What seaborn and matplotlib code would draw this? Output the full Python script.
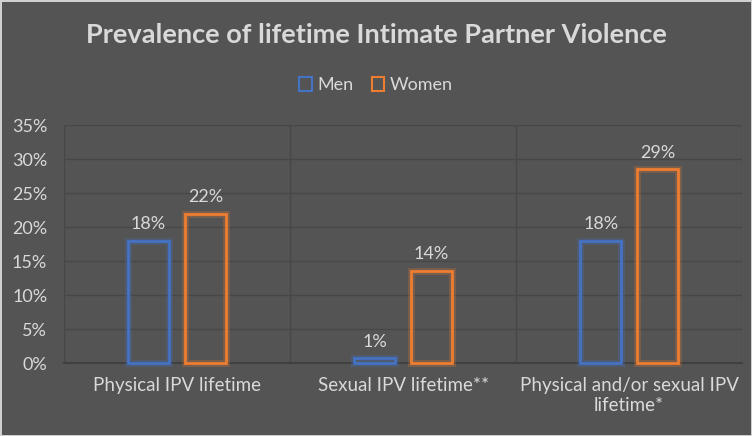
import matplotlib
matplotlib.use("Agg")
import matplotlib.pyplot as plt
import matplotlib.patheffects as pe
import seaborn as sns
import pandas as pd
from matplotlib.patches import Patch

categories = ["Physical IPV lifetime", "Sexual IPV lifetime**", "Physical and/or sexual IPV\nlifetime*"]
men = [18.0, 0.7, 18.0]
women = [22.0, 13.6, 28.5]
men_labels = ["18%", "1%", "18%"]
women_labels = ["22%", "14%", "29%"]
series = ["Men", "Women"]
yticks = [0, 5, 10, 15, 20, 25, 30, 35]

df = pd.DataFrame({
    "category": categories * 2,
    "value": men + women,
    "series": ["Men"] * 3 + ["Women"] * 3,
    "label": men_labels + women_labels,
})

BG = "#545454"
TXT = "#d9d9d9"
GRID = "#474747"
colors = {"Men": "#4472C4", "Women": "#ED7D31"}

sns.set_theme(style="white")
plt.rcParams["font.family"] = ["Lato", "DejaVu Sans"]

fig = plt.figure(figsize=(7.52, 4.36), dpi=100)
fig.patch.set_facecolor(BG)
fig.patch.set_edgecolor("#d0d0d0")
fig.patch.set_linewidth(2)
ax = fig.add_axes([0.085, 0.167, 0.902, 0.546])
ax.set_facecolor(BG)

sns.barplot(data=df, x="category", y="value", hue="series", order=categories,
            hue_order=series, palette=colors, width=0.505, gap=0.29,
            ax=ax, legend=False, fill=False, linewidth=2)

for patch in ax.patches:
    ec = patch.get_edgecolor()
    patch.set_clip_on(False)
    patch.set_zorder(4)
    patch.set_path_effects([pe.Stroke(linewidth=5, foreground=ec, alpha=0.25), pe.Normal()])

for i, cont in enumerate(ax.containers):
    labs = men_labels if i == 0 else women_labels
    ax.bar_label(cont, labels=labs, padding=6, color=TXT, fontsize=13)

ax.set_ylim(0, 35)
ax.set_xlim(-0.5, 2.5)
ax.set_yticks(yticks)
ax.set_yticklabels([f"{t}%" for t in yticks], color=TXT, fontsize=13)
ax.tick_params(axis="x", colors=TXT, labelsize=13.5, length=0, pad=10)
ax.tick_params(axis="y", length=0, pad=12)
ax.set_xlabel("")
ax.set_ylabel("")
for t in yticks[1:]:
    ax.axhline(t, color=GRID, lw=1, zorder=0)
for xv in [-0.5, 0.5, 1.5, 2.5]:
    ax.axvline(xv, color=GRID, lw=1, zorder=0)
for s in ["top", "right", "left"]:
    ax.spines[s].set_visible(False)
ax.spines["bottom"].set_color("#404040")
ax.spines["bottom"].set_linewidth(1.5)
ax.spines["bottom"].set_zorder(1)

fig.text(0.5, 0.92, "Prevalence of lifetime Intimate Partner Violence", ha="center", va="center",
         color=TXT, fontsize=19.5, fontweight="bold")

handles = [Patch(facecolor="none", edgecolor=colors[s], linewidth=1.5, label=s) for s in series]
leg = fig.legend(handles=handles, loc="center", bbox_to_anchor=(0.5, 0.805), ncol=2, frameon=False,
                 fontsize=13, handlelength=0.7, handleheight=0.8, handletextpad=0.3, columnspacing=1.0)
for t in leg.get_texts():
    t.set_color(TXT)

fig.savefig("out.png", dpi=100, facecolor=BG, edgecolor=fig.patch.get_edgecolor())
